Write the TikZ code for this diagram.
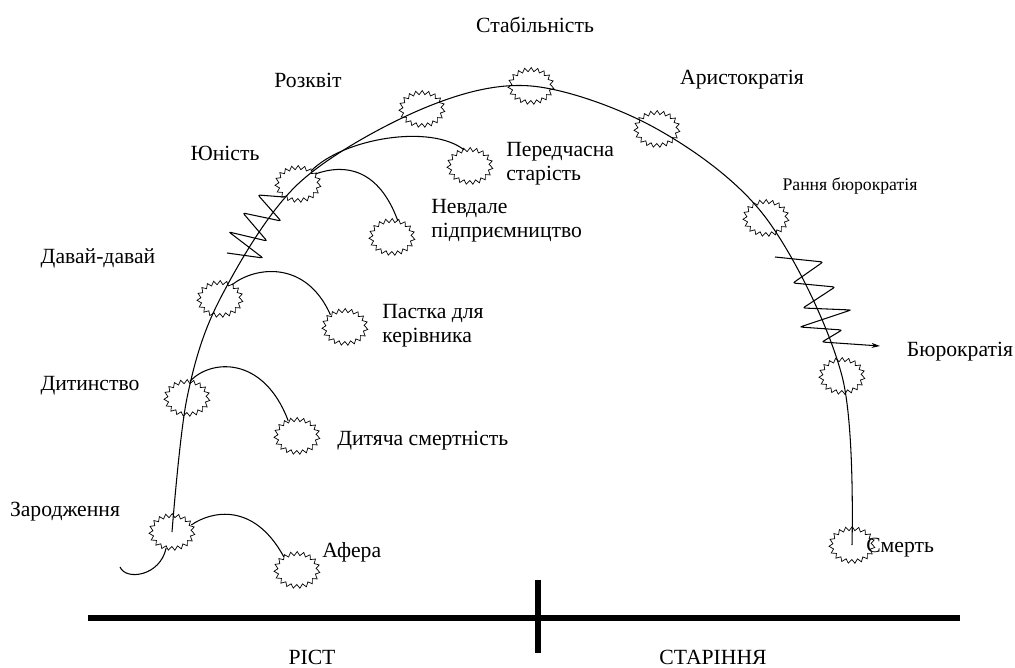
\documentclass[tikz,border=0pt]{standalone}
\usepackage{fontspec}
\setmainfont{Liberation Serif}
\usetikzlibrary{shapes.geometric,decorations.pathmorphing,arrows.meta}
\begin{document}
\begin{tikzpicture}[x=0.025cm,y=-0.025cm,
  bud/.style={draw,ellipse,minimum width=1.05cm,minimum height=0.82cm,inner sep=0pt,line width=0.5pt,
    decorate,decoration={zigzag,segment length=4.4pt,amplitude=1.4pt}},
  lbl/.style={font=\fontsize{15.4}{17}\selectfont,inner sep=0pt,align=left},
  curve/.style={line width=0.75pt}]
  \useasboundingbox (0,0) rectangle (1015,668);
  % Stages on the arc
  \node[bud] (zar) at (172,532) {};
  \node[bud] (dyt) at (187,398) {};
  \node[bud] (dav) at (220,299) {};
  \node[bud] (yun) at (298,184) {};
  \node[bud] (roz) at (422,109) {};
  \node[bud] (stab) at (531,86) {};
  \node[bud] (aris) at (657,129) {};
  \node[bud] (rbur) at (766,218) {};
  \node[bud] (bur) at (842,376) {};
  \node[bud] (smer) at (852,545) {};
  % Traps
  \node[bud] (afer) at (297,570) {};
  \node[bud] (dsm) at (297,436) {};
  \node[bud] (pas) at (345,327) {};
  \node[bud] (nev) at (392,237) {};
  \node[bud] (per) at (470,166) {};
  % Labels
  \node[lbl] (stabT) at (535,25) {Стабільність};
  \node[lbl] (rozT) at (308,80) {Розквіт};
  \node[lbl] (arisT) at (742,80) {Аристократія};
  \node[lbl] (yunT) at (225,153) {Юність};
  \node[lbl,anchor=west] (perT) at (506,164) {Передчасна\\старість};
  \node[lbl,anchor=west] (nevT) at (431,221) {Невдале\\підприємництво};
  \node[lbl] (davT) at (98,258) {Давай-давай};
  \node[lbl,anchor=west] (pasT) at (382,326) {Пастка для\\керівника};
  \node[lbl] (dytT) at (90,386) {Дитинство};
  \node[lbl,anchor=west] (dsmT) at (337,441) {Дитяча смертність};
  \node[lbl] (zarT) at (65,512) {Зародження};
  \node[lbl,anchor=west] (aferT) at (322,552) {Афера};
  \node[lbl,font=\fontsize{12.6}{14}\selectfont] (rburT) at (850,186) {Рання бюрократія};
  \node[lbl] (burT) at (960,352) {Бюрократія};
  \node[lbl,anchor=west] (smerT) at (866,548) {Смерть};
  \node[lbl] (ristT) at (312,657) {РІСТ};
  \node[lbl] (starT) at (713,657) {СТАРІННЯ};
  % Main arc
  \draw[curve] (zar.-110) .. controls +(-6,28) and +(6,14) .. (120,567);
  \draw[curve] plot[smooth,tension=0.55] coordinates {(zar.center) (dyt.center) (dav.center)
    (yun.center) (roz.center) (stab.center) (aris.center) (rbur.center) (bur.center) (smer.center)};
  % Side branches
  \draw[curve] (zar.20) .. controls +(20,-14) and +(-30,-55) .. (afer.135);
  \draw[curve] (dyt.80) .. controls +(20,-22) and +(-25,-66) .. (dsm.120);
  \draw[curve] (dav.50) .. controls +(22,-18) and +(-25,-56) .. (pas.140);
  \draw[curve] (yun.30) .. controls +(30,-11) and +(-19,-52) .. (nev.70);
  \draw[curve] (yun.45) .. controls +(33,-33) and +(-33,-26) .. (per.110);
  % Zigzags
  \draw[curve,rounded corners=1.5pt] (227,253) -- (263,258) -- (229,232) -- (267,241) -- (243,213)
    -- (281,221) -- (258,195) -- (284,197);
  \coordinate (burArr) at (880,346);
  \draw[curve,rounded corners=1.5pt,-{Stealth[length=6pt,width=3.5pt]}] (775,257) -- (823,262) -- (793,283)
    -- (835,287) -- (803,308) -- (851,310) -- (800,327) -- (842,330) -- (822,342) -- (burArr);
  % Time axis
  \draw[line width=3.6pt] (88,618) -- (960,618);
  \draw[line width=3.6pt] (538,580) -- (538,653);
\end{tikzpicture}
\end{document}
